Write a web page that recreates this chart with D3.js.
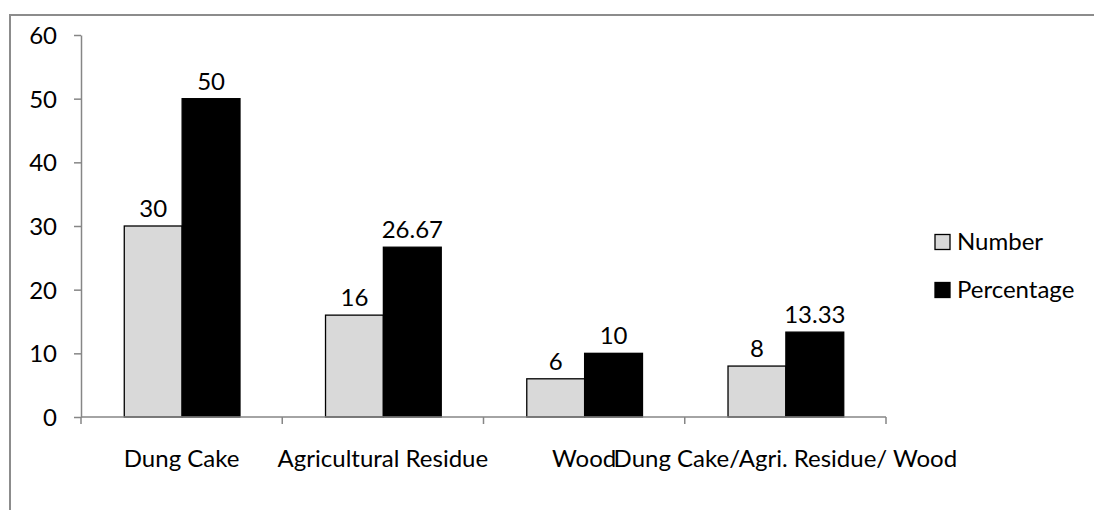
<!DOCTYPE html>
<html><head><meta charset="utf-8">
<script src="https://cdn.jsdelivr.net/npm/d3@7"></script>
<style>html,body{margin:0;padding:0;background:#fff;overflow:hidden}svg{display:block}text{font-family:Lato,"Open Sans",sans-serif;fill:#000}</style>
</head><body>
<script>
const categories = ["Dung Cake", "Agricultural Residue", "Wood", "Dung Cake/Agri. Residue/ Wood"];
const seriesNames = ["Number", "Percentage"];
const numberValues = [30, 16, 6, 8];
const percentageValues = [50, 26.67, 10, 13.33];
const valueLabels = [["30","16","6","8"], ["50","26.67","10","13.33"]];
const yTicks = [0, 10, 20, 30, 40, 50, 60];
const colors = ["#d9d9d9", "#000000"];

const W = 1094, H = 510;
const svg = d3.select("body").append("svg").attr("width", W).attr("height", H);
const FS = 24;
const gray = "#868686";

// outer border
svg.append("rect").attr("x", 10).attr("y", 15).attr("width", 1200).attr("height", 700)
  .attr("fill", "none").attr("stroke", "#8c8c8c").attr("stroke-width", 2);

const mLeft = 81, mRight = 886, mTop = 35, mBottom = 417;
const x0 = d3.scaleBand().domain(categories).range([mLeft, mRight]).paddingInner(0).paddingOuter(0);
const bw = x0.bandwidth();
const x1 = d3.scaleBand().domain(seriesNames).range([bw * 0.215, bw * 0.79]).padding(0);
const y = d3.scaleLinear().domain([0, 60]).range([mBottom, mTop]);

const data = categories.map((c, i) => ({cat: c, vals: [numberValues[i], percentageValues[i]]}));

// y axis
const yAxis = svg.append("g").attr("transform", `translate(${mLeft},0)`)
  .call(d3.axisLeft(y).tickValues(yTicks).tickSize(7).tickPadding(17).tickSizeOuter(0));
yAxis.select(".domain").attr("stroke", gray).attr("stroke-width", 1.5);
yAxis.selectAll(".tick line").attr("stroke", gray).attr("stroke-width", 1.5);
yAxis.selectAll(".tick text").attr("font-size", FS).attr("font-family", "Lato").attr("fill", "#000").attr("dy", "0.35em");

// bars
const g = svg.append("g");
data.forEach((d, i) => {
  seriesNames.forEach((s, j) => {
    g.append("rect")
      .attr("x", x0(d.cat) + x1(s))
      .attr("y", y(d.vals[j]))
      .attr("width", x1.bandwidth())
      .attr("height", y(0) - y(d.vals[j]))
      .attr("fill", colors[j]).attr("stroke", "#000").attr("stroke-width", 1.3);
    g.append("text")
      .attr("x", x0(d.cat) + x1(s) + x1.bandwidth() / 2)
      .attr("y", y(d.vals[j]) - 9)
      .attr("text-anchor", "middle").attr("font-size", FS)
      .text(valueLabels[j][i]);
  });
});

// x axis
const xAxis = svg.append("g").attr("transform", `translate(0,${mBottom})`);
xAxis.append("line").attr("x1", mLeft).attr("x2", mRight).attr("y1", 0).attr("y2", 0)
  .attr("stroke", gray).attr("stroke-width", 1.5);
const edges = categories.map(c => x0(c)).concat([mRight]);
xAxis.selectAll("line.tk").data(edges).enter().append("line").attr("class", "tk")
  .attr("x1", d => d).attr("x2", d => d).attr("y1", 0).attr("y2", 7)
  .attr("stroke", gray).attr("stroke-width", 1.5);
xAxis.selectAll("text").data(categories).enter().append("text")
  .attr("x", d => x0(d) + bw / 2).attr("y", 50)
  .attr("text-anchor", "middle").attr("font-size", FS).text(d => d);

// legend
const leg = svg.append("g");
seriesNames.forEach((s, j) => {
  const ly = 242 + j * 48;
  leg.append("rect").attr("x", 935).attr("y", ly - 7.5).attr("width", 15).attr("height", 15)
    .attr("fill", colors[j]).attr("stroke", "#000").attr("stroke-width", 1.3);
  leg.append("text").attr("x", 957).attr("y", ly).attr("dy", "0.35em")
    .attr("font-size", FS).text(s);
});
</script>
</body></html>
